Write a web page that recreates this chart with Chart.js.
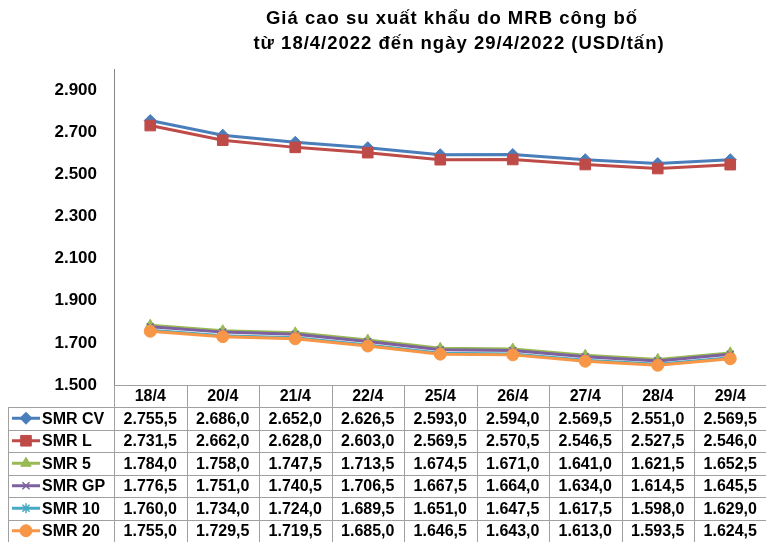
<!DOCTYPE html>
<html>
<head>
<meta charset="utf-8">
<script src="https://cdn.jsdelivr.net/npm/chart.js@4/dist/chart.umd.min.js"></script>
<style>
  html, body { margin: 0; padding: 0; background: #fff; overflow: hidden; }
  canvas { display: block; }
</style>
</head>
<body>
<canvas id="chart" width="775" height="542"></canvas>
<script>
// du lieu gia cao su (USD/tan)
const categories = ["18/4", "20/4", "21/4", "22/4", "25/4", "26/4", "27/4", "28/4", "29/4"];
const seriesNames = ["SMR CV", "SMR L", "SMR 5", "SMR GP", "SMR 10", "SMR 20"];
const smrCV = [2755.5, 2686.0, 2652.0, 2626.5, 2593.0, 2594.0, 2569.5, 2551.0, 2569.5];
const smrL = [2731.5, 2662.0, 2628.0, 2603.0, 2569.5, 2570.5, 2546.5, 2527.5, 2546.0];
const smr5 = [1784.0, 1758.0, 1747.5, 1713.5, 1674.5, 1671.0, 1641.0, 1621.5, 1652.5];
const smrGP = [1776.5, 1751.0, 1740.5, 1706.5, 1667.5, 1664.0, 1634.0, 1614.5, 1645.5];
const smr10 = [1760.0, 1734.0, 1724.0, 1689.5, 1651.0, 1647.5, 1617.5, 1598.0, 1629.0];
const smr20 = [1755.0, 1729.5, 1719.5, 1685.0, 1646.5, 1643.0, 1613.0, 1593.5, 1624.5];
const yTicks = [1500, 1700, 1900, 2100, 2300, 2500, 2700, 2900];
const titleLines = ["Giá cao su xuất khẩu do MRB công bố", "từ 18/4/2022 đến ngày 29/4/2022 (USD/tấn)"];

const colors = ["#4A7EBB", "#BE4B48", "#98B954", "#7D60A0", "#46AAC5", "#F79646"];
const styles = ["rectRot", "rect", "triangle", "crossRot", "star", "circle"];
const radii = [6, 7.5, 6, 5, 5, 6];
const allSeries = [smrCV, smrL, smr5, smrGP, smr10, smr20];

const FONT = '"Liberation Sans", Arial, sans-serif';

// 2755.5 -> "2.755,5"
function fmt(v, dec) {
  const parts = v.toFixed(dec).split(".");
  const intPart = parts[0].replace(/\B(?=(\d{3})+(?!\d))/g, ".");
  return parts[1] ? intPart + "," + parts[1] : intPart;
}

const datasets = allSeries.map((data, i) => ({
  label: seriesNames[i],
  data,
  borderColor: colors[i],
  backgroundColor: colors[i],
  borderWidth: 3,
  pointStyle: styles[i],
  pointRadius: radii[i],
  pointBorderColor: colors[i],
  pointBackgroundColor: colors[i],
  pointBorderWidth: styles[i] === "crossRot" || styles[i] === "star" ? 1.5 : 1,
  tension: 0,
  order: allSeries.length - i,
}));

const titlePlugin = {
  id: "titleText",
  afterDraw(chart) {
    const ctx = chart.ctx;
    ctx.save();
    ctx.fillStyle = "#000";
    ctx.font = "bold 18.5px " + FONT;
    ctx.letterSpacing = "1px";
    ctx.textAlign = "center";
    ctx.textBaseline = "middle";
    ctx.fillText(titleLines[0], 452, 19);
    ctx.fillText(titleLines[1], 459, 44);
    ctx.restore();
  },
};

const tablePlugin = {
  id: "dataTable",
  afterDraw(chart) {
    const ctx = chart.ctx;
    const x = chart.scales.x;
    const area = chart.chartArea;
    const half = (x.getPixelForValue(1) - x.getPixelForValue(0)) / 2;
    const top = area.bottom;
    const headerH = 22;
    const rowH = 22.5;
    const tableLeft = 8;
    const bottom = top + headerH + rowH * seriesNames.length;

    ctx.save();
    ctx.strokeStyle = "#A0A0A0";
    ctx.lineWidth = 1;
    ctx.beginPath();
    // vertical lines
    for (let i = 0; i <= categories.length; i++) {
      const px = Math.round(x.getPixelForValue(0) - half + i * 2 * half) + 0.5;
      ctx.moveTo(px, top);
      ctx.lineTo(px, bottom);
    }
    ctx.moveTo(tableLeft + 0.5, top + headerH);
    ctx.lineTo(tableLeft + 0.5, bottom);
    // horizontal lines
    ctx.moveTo(area.left, Math.round(top) + 0.5);
    ctx.lineTo(chart.width, Math.round(top) + 0.5);
    for (let r = 0; r <= seriesNames.length; r++) {
      const py = Math.round(top + headerH + r * rowH) + 0.5;
      ctx.moveTo(tableLeft, py);
      ctx.lineTo(chart.width, py);
    }
    ctx.stroke();

    ctx.fillStyle = "#000";
    ctx.font = "bold 16px " + FONT;
    ctx.textAlign = "center";
    ctx.textBaseline = "middle";
    categories.forEach((c, i) => {
      ctx.fillText(c, x.getPixelForValue(i), top + headerH / 2 + 1);
    });

    allSeries.forEach((data, r) => {
      const cy = top + headerH + r * rowH + rowH / 2 + 1;
      // legend key
      ctx.strokeStyle = colors[r];
      ctx.fillStyle = colors[r];
      ctx.lineWidth = 3;
      ctx.beginPath();
      ctx.moveTo(12, cy - 1);
      ctx.lineTo(40, cy - 1);
      ctx.stroke();
      ctx.lineWidth = datasets[r].pointBorderWidth;
      Chart.helpers.drawPoint(ctx, { pointStyle: styles[r], radius: radii[r], rotation: 0, borderWidth: datasets[r].pointBorderWidth }, 26, cy - 1);

      ctx.fillStyle = "#000";
      ctx.textAlign = "left";
      ctx.fillText(seriesNames[r], 42, cy);
      ctx.textAlign = "center";
      data.forEach((v, i) => {
        ctx.fillText(fmt(v, 1), x.getPixelForValue(i), cy);
      });
    });
    ctx.restore();
  },
};

new Chart(document.getElementById("chart"), {
  type: "line",
  data: { labels: categories, datasets },
  options: {
    responsive: false,
    animation: false,
    devicePixelRatio: 1,
    layout: { padding: { top: 69, right: 0, bottom: 157, left: 0 } },
    plugins: { legend: { display: false }, tooltip: { enabled: false }, title: { display: false } },
    scales: {
      x: {
        display: false,
        offset: true,
      },
      y: {
        min: 1500,
        max: 3000,
        afterFit(scale) { scale.width = 114; },
        afterBuildTicks(scale) { scale.ticks = yTicks.map((v) => ({ value: v })); },
        grid: { display: true, drawOnChartArea: false, drawTicks: false },
        border: { display: true, color: "#888888", width: 1 },
        ticks: {
          padding: 17,
          color: "#000",
          font: { family: FONT, size: 17, weight: "bold" },
          callback: (v) => fmt(v, 0),
        },
      },
    },
  },
  plugins: [titlePlugin, tablePlugin],
});
</script>
</body>
</html>
